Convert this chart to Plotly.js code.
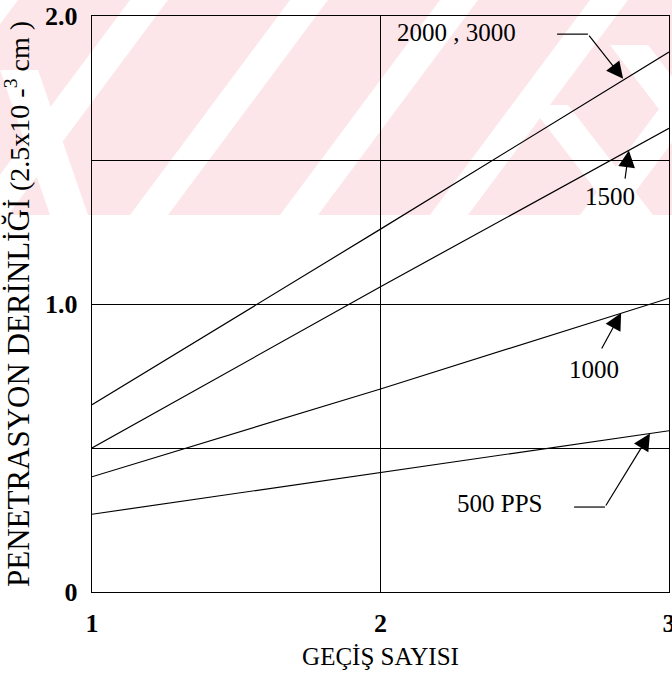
<!DOCTYPE html>
<html>
<head>
<meta charset="utf-8">
<script src="https://cdn.plot.ly/plotly-3.0.1.min.js"></script>
<style>html,body{margin:0;padding:0;background:#fff;}#chart{width:672px;height:678px;}</style>
</head>
<body>
<div id="chart"></div>
<script>
// ---- data ----
const passes = [1, 2, 3];
const pps2000_3000 = [0.65, 1.26, 1.875];
const pps1500 = [0.50, 1.06, 1.61];
const pps1000 = [0.40, 0.705, 1.02];
const pps500 = [0.27, 0.415, 0.56];
const xTickVals = [1, 2, 3];
const xTickText = ['1', '2', '3'];
const yTickVals = [0, 0.5, 1, 1.5, 2];
const yTickText = ['0', '', '1.0', '', '2.0'];
const seriesLabels = ['2000 , 3000', '1500', '1000', '500 PPS'];

const serif = 'Liberation Serif, Times New Roman, serif';
const lineStyle = {color: '#000', width: 1.2};
const traces = [pps2000_3000, pps1500, pps1000, pps500].map((ys, i) => ({
  x: passes, y: ys, type: 'scatter', mode: 'lines', line: lineStyle,
  name: seriesLabels[i], showlegend: false, hoverinfo: 'skip'
}));

// watermark decoration (pixel-space helper -> paper coords)
const L = 92, R = 3, T = 16, B = 86, W = 672, H = 678;
const pw = W - L - R, ph = H - T - B;
const px = v => ((v - L) / pw).toFixed(4);
const py = v => ((H - B - v) / ph).toFixed(4);
function poly(pts) { return 'M' + pts.map(p => px(p[0]) + ',' + py(p[1])).join(' L') + ' Z'; }
const shapes = [];
const band = 215;
shapes.push({type: 'path', xref: 'paper', yref: 'paper', layer: 'below',
  path: poly([[0, 0], [672, 0], [672, band], [0, band]]), fillcolor: '#fde6ea', line: {width: 0}});
const slope = 160, sw = 38;
[-20, 130, 290, 440, 590, 740].forEach(a => {
  shapes.push({type: 'path', xref: 'paper', yref: 'paper', layer: 'below',
    path: poly([[a, 0], [a + sw, 0], [a + sw - slope, band], [a - slope, band]]),
    fillcolor: '#ffffff', line: {width: 0}});
});
// "\" chevron arms
[[610, 45, 690, 150], [530, 105, 615, band], [0, 70, 50, band]].forEach(s => {
  shapes.push({type: 'path', xref: 'paper', yref: 'paper', layer: 'below',
    path: poly([[s[0], s[1]], [s[0] + sw, s[1]], [s[2] + sw, s[3]], [s[2], s[3]]]),
    fillcolor: '#ffffff', line: {width: 0}});
});

const annFont = {family: serif, size: 25, color: '#000'};
const arrowBase = {showarrow: true, arrowhead: 2, arrowsize: 2.8, arrowwidth: 1.2, arrowcolor: '#000',
  axref: 'x', ayref: 'y', text: '', standoff: 0, startstandoff: 0};
const annotations = [
  {x: 2.262, y: 1.941, text: seriesLabels[0], showarrow: false, font: annFont},
  {x: 2.795, y: 1.375, text: seriesLabels[1], showarrow: false, font: annFont},
  {x: 2.74, y: 0.771, text: seriesLabels[2], showarrow: false, font: annFont},
  {x: 2.414, y: 0.309, text: seriesLabels[3], showarrow: false, font: annFont},
  Object.assign({}, arrowBase, {x: 2.841, y: 1.782, ax: 2.719, ay: 1.937}),
  Object.assign({}, arrowBase, {x: 2.861, y: 1.533, ax: 2.847, ay: 1.43}),
  Object.assign({}, arrowBase, {x: 2.834, y: 0.969, ax: 2.764, ay: 0.84}),
  Object.assign({}, arrowBase, {x: 2.934, y: 0.550, ax: 2.778, ay: 0.295})
];
// horizontal leader segments
shapes.push({type: 'line', xref: 'x', yref: 'y', x0: 2.612, x1: 2.719, y0: 1.937, y1: 1.937, line: {color: '#000', width: 1.2}});
shapes.push({type: 'line', xref: 'x', yref: 'y', x0: 2.671, x1: 2.778, y0: 0.295, y1: 0.295, line: {color: '#000', width: 1.2}});

const layout = {
  width: W, height: H,
  margin: {l: L, r: R, t: T, b: B, pad: 0},
  paper_bgcolor: 'rgba(0,0,0,0)', plot_bgcolor: 'rgba(0,0,0,0)',
  showlegend: false,
  font: {family: serif, color: '#000'},
  xaxis: {
    range: [1, 3], tickvals: xTickVals, ticktext: xTickText, ticks: '', ticklabelstandoff: 8,
    ticklabeloverflow: 'allow', automargin: false,
    tickfont: {family: serif, size: 26, weight: 'bold'},
    showgrid: true, gridcolor: '#000', gridwidth: 1, zeroline: false,
    showline: true, mirror: true, linecolor: '#000', linewidth: 1.2,
    title: {text: 'GEÇİŞ SAYISI', font: {family: serif, size: 25}, standoff: 10}
  },
  yaxis: {
    range: [0, 2], tickvals: yTickVals, ticktext: yTickText, ticks: '', ticklabelstandoff: 8,
    automargin: false,
    tickfont: {family: serif, size: 26, weight: 'bold'},
    showgrid: true, gridcolor: '#000', gridwidth: 1, zeroline: false,
    showline: true, mirror: true, linecolor: '#000', linewidth: 1.2,
    title: {text: 'PENETRASYON DERİNLİĞİ <span style="font-size:28px">(2.5x10 -<sup>3</sup> cm )</span>',
      font: {family: serif, size: 31}, standoff: 6}
  },
  shapes: shapes,
  annotations: annotations
};
Plotly.newPlot('chart', traces, layout, {staticPlot: true, displayModeBar: false});
</script>
</body>
</html>
